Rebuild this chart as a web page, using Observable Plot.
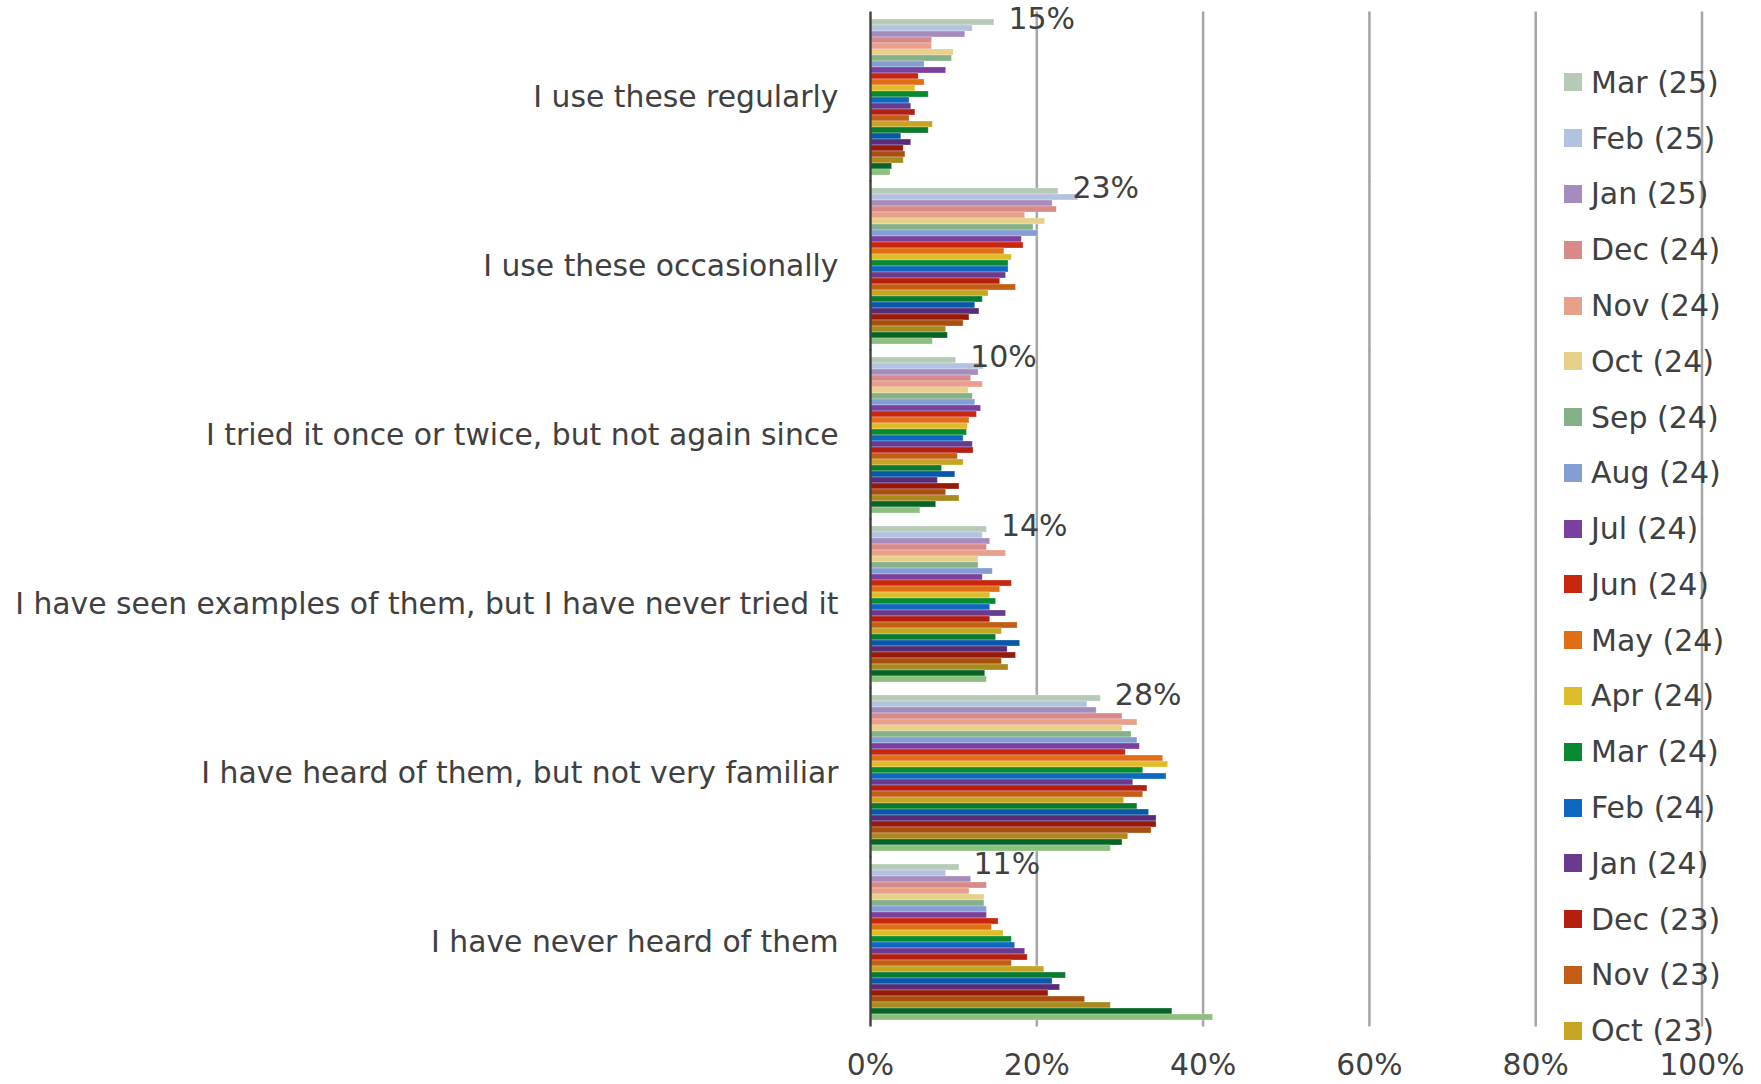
<!DOCTYPE html>
<html>
<head>
<meta charset="utf-8">
<script src="https://cdn.jsdelivr.net/npm/d3@7"></script>
<script src="https://cdn.jsdelivr.net/npm/@observablehq/plot@0.6"></script>
<style>
  html, body { margin: 0; padding: 0; background: #fff; }
  #wrap { position: relative; width: 1761px; height: 1084px; overflow: hidden; }
  #legend { position: absolute; left: 0; top: 0; font-family: "DejaVu Sans", sans-serif; font-size: 30px; color: #404040; }
  .row { position: absolute; display: flex; align-items: center; white-space: nowrap; height: 40px; }
  .sw { width: 18px; height: 18px; margin-right: 9px; flex: none; }
</style>
</head>
<body>
<div id="wrap"><div id="legend"></div></div>
<script>
const categories = [
  "I use these regularly",
  "I use these occasionally",
  "I tried it once or twice, but not again since",
  "I have seen examples of them, but I have never tried it",
  "I have heard of them, but not very familiar",
  "I have never heard of them"
];
const series = [
  "Mar (25)", "Feb (25)", "Jan (25)", "Dec (24)", "Nov (24)", "Oct (24)", "Sep (24)",
  "Aug (24)", "Jul (24)", "Jun (24)", "May (24)", "Apr (24)", "Mar (24)", "Feb (24)",
  "Jan (24)", "Dec (23)", "Nov (23)", "Oct (23)", "Sep (23)", "Aug (23)", "Jul (23)",
  "Jun (23)", "May (23)", "Apr (23)", "Mar (23)", "Feb (23)"
];
const legendCount = 18;
const colors = [
  "#b5cbb5", "#b4c2e2", "#a68cbc", "#d88a88", "#e8a08a", "#e6d08a", "#84b08a",
  "#849ed4", "#7b3f9e", "#c8260e", "#e06e14", "#dfbd2a", "#088a30", "#0f68c0",
  "#6a3a8e", "#b42010", "#c45e14", "#c6a424", "#0a7a30", "#0858a8", "#592c78",
  "#961a0a", "#a84e0e", "#a88a1e", "#066426", "#8cc07e"
];
const regularly = [14.9, 12.3, 11.4, 7.4, 7.4, 10.0, 9.8, 6.5, 9.1, 5.8, 6.5, 5.4, 7.0, 4.7, 4.9, 5.4, 4.7, 7.5, 7.0, 3.7, 4.9, 4.0, 4.2, 4.0, 2.6, 2.4];
const occasionally = [22.6, 25.0, 21.9, 22.4, 18.6, 21.0, 19.6, 20.2, 18.2, 18.4, 16.1, 17.0, 16.6, 16.6, 16.3, 15.6, 17.5, 14.2, 13.5, 12.6, 13.1, 11.9, 11.2, 9.1, 9.3, 7.5];
const triedOnce = [10.3, 13.6, 13.0, 12.1, 13.5, 11.8, 12.3, 12.6, 13.3, 12.8, 11.9, 11.7, 11.6, 11.2, 12.3, 12.4, 10.5, 11.2, 8.6, 10.2, 8.1, 10.7, 9.1, 10.7, 7.9, 6.0];
const seenExamples = [14.0, 13.5, 14.4, 14.0, 16.3, 13.0, 13.0, 14.7, 13.5, 17.0, 15.6, 14.4, 15.1, 14.4, 16.3, 14.4, 17.7, 15.8, 15.1, 18.0, 16.5, 17.5, 15.8, 16.6, 13.8, 14.0];
const heardNotFamiliar = [27.7, 26.1, 27.2, 30.3, 32.1, 30.3, 31.4, 32.1, 32.4, 30.7, 35.2, 35.8, 32.8, 35.6, 31.6, 33.3, 32.8, 30.5, 32.1, 33.5, 34.4, 34.4, 33.8, 31.0, 30.3, 28.9];
const neverHeard = [10.7, 9.1, 12.1, 14.0, 11.9, 13.7, 13.7, 14.0, 14.0, 15.4, 14.6, 16.0, 17.0, 17.4, 18.6, 18.9, 17.0, 20.9, 23.5, 21.9, 22.8, 21.4, 25.8, 28.9, 36.3, 41.2];
const xTicks = [0, 20, 40, 60, 80, 100];

const valueLists = [regularly, occasionally, triedOnce, seenExamples, heardNotFamiliar, neverHeard];
const data = categories.flatMap((c, i) => valueLists[i].map((v, j) => ({category: c, series: series[j], value: v})));
const labelData = data.filter(d => d.series === series[0]);

const chart = Plot.plot({
  width: 1761,
  height: 1084,
  marginLeft: 870,
  marginRight: 59.5,
  marginTop: 11,
  marginBottom: 57.5,
  style: {fontFamily: "DejaVu Sans, sans-serif", fontSize: "29.8px", color: "#404040", background: "white"},
  x: {domain: [0, 100], ticks: xTicks, tickFormat: d => d + "%", tickSize: 0, tickPadding: 30, label: null},
  y: {domain: series, axis: null, padding: 0},
  fy: {domain: categories, paddingInner: 0.036, paddingOuter: 0.018, axis: "left", tickSize: 0, tickPadding: 32, label: null},
  color: {domain: series, range: colors},
  marks: [
    Plot.ruleX(xTicks.slice(1), {stroke: "#a6a6a6", strokeWidth: 2.5, insetTop: -3.5, insetBottom: -3.5}),
    Plot.barX(data, {x: "value", y: "series", fy: "category", fill: "series", stroke: "#ffffff", strokeOpacity: 0.35, strokeWidth: 0.8}),
    Plot.ruleX([0], {stroke: "#404040", strokeWidth: 2.4, insetTop: -3.5, insetBottom: -3.5}),
    Plot.text(labelData, {x: "value", y: "series", fy: "category", text: d => Math.round(d.value) + "%", textAnchor: "start", dx: 14, dy: -3.5, fontSize: 30, fill: "#404040"})
  ]
});
document.getElementById("wrap").prepend(chart);

const legend = document.getElementById("legend");
series.slice(0, legendCount).forEach((s, i) => {
  const row = document.createElement("div");
  row.className = "row";
  row.style.left = "1564px";
  row.style.top = (82.4 + i * 55.78 - 20) + "px";
  const sw = document.createElement("div");
  sw.className = "sw";
  sw.style.background = colors[i];
  const tx = document.createElement("span");
  tx.textContent = s;
  row.appendChild(sw);
  row.appendChild(tx);
  legend.appendChild(row);
});
</script>
</body>
</html>
